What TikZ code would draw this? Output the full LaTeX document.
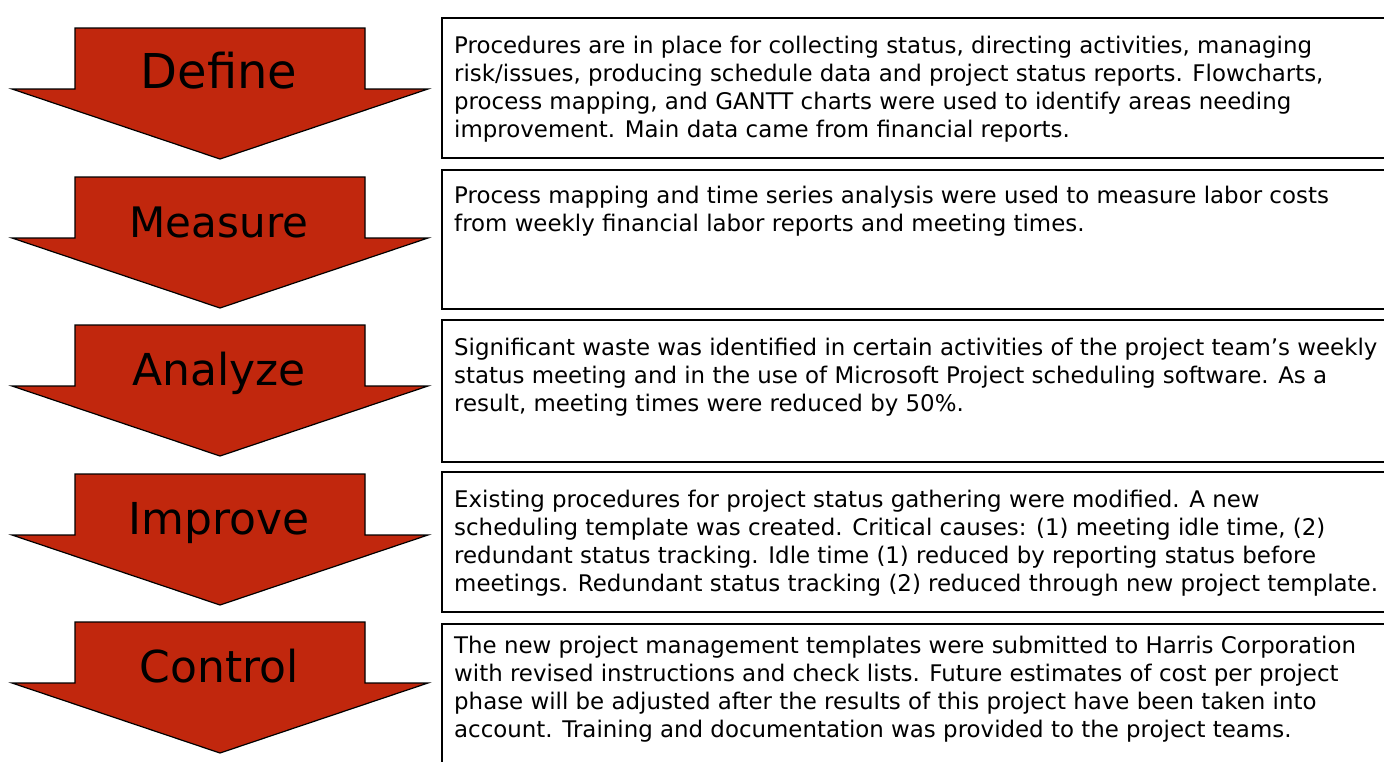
\documentclass[tikz,border=0pt]{standalone}
\usepackage{fontspec}
\setmainfont{DejaVu Sans}
\definecolor{phasered}{RGB}{193,39,13}

\begin{document}
\begin{tikzpicture}[x=1pt,y=-1pt,
  phase/.style={fill=phasered, draw=black, line width=1.2pt, line join=miter},
  note/.style={draw=black, line width=2.4pt},
  notetext/.style={anchor=north west, inner sep=0pt, align=left, font=\fontsize{22.9}{28}\selectfont},
  phaselabel/.style={anchor=base, inner sep=0pt}]
\useasboundingbox (0,0) rectangle (1384,761);
\clip (0,0) rectangle (1384,761);
% red arrows
\foreach \t in {28,177,325,474,622}\draw[phase] (75,\t) -- (365,\t) -- (365,\t+61) -- (428,\t+61) -- (220,\t+131) -- (12,\t+61) -- (75,\t+61) -- cycle;
\node[phaselabel, font=\fontsize{48}{48}\selectfont] (Define) at (219,88) {Define};
\node[phaselabel, font=\fontsize{42}{42}\selectfont] (Measure) at (219,237) {Measure};
\node[phaselabel, font=\fontsize{44}{44}\selectfont] (Analyze) at (219,385) {Analyze};
\node[phaselabel, font=\fontsize{44}{44}\selectfont] (Improve) at (219,534) {Improve};
\node[phaselabel, font=\fontsize{44}{44}\selectfont] (Control) at (219,682) {Control};
% text boxes
\draw[note] (442,18) rectangle (1400,158);
\draw[note] (442,170) rectangle (1400,309);
\draw[note] (442,320) rectangle (1400,462);
\draw[note] (442,472) rectangle (1400,612);
\draw[note] (442,624) rectangle (1400,780);
\node[notetext] (DefineText) at (454,53-19.6) {\strut Procedures are in place for collecting status, directing activities, managing\\
risk/issues, producing schedule data and project status reports. Flowcharts,\\
process mapping, and GANTT charts were used to identify areas needing\\
improvement. Main data came from financial reports.};
\node[notetext] (MeasureText) at (454,203-19.6) {\strut Process mapping and time series analysis were used to measure labor costs\\
from weekly financial labor reports and meeting times.};
\node[notetext] (AnalyzeText) at (454,355-19.6) {\strut Significant waste was identified in certain activities of the project team’s weekly\\
status meeting and in the use of Microsoft Project scheduling software. As a\\
result, meeting times were reduced by 50\%.};
\node[notetext] (ImproveText) at (454,507-19.6) {\strut Existing procedures for project status gathering were modified. A new\\
scheduling template was created. Critical causes: (1) meeting idle time, (2)\\
redundant status tracking. Idle time (1) reduced by reporting status before\\
meetings. Redundant status tracking (2) reduced through new project template.};
\node[notetext] (ControlText) at (454,653-19.6) {\strut The new project management templates were submitted to Harris Corporation\\
with revised instructions and check lists. Future estimates of cost per project\\
phase will be adjusted after the results of this project have been taken into\\
account. Training and documentation was provided to the project teams.};
\end{tikzpicture}
\end{document}
